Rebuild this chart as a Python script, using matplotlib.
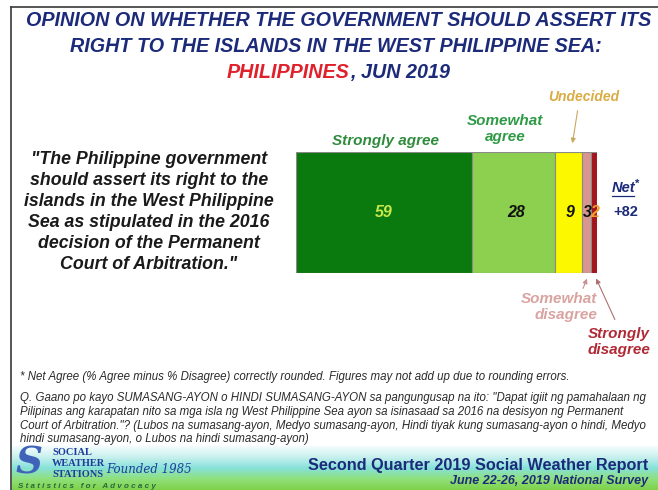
import numpy as np
import matplotlib.pyplot as plt
from matplotlib.colors import LinearSegmentedColormap

# survey shares (percent), left to right
categories = ['Strongly agree', 'Somewhat agree', 'Undecided', 'Somewhat disagree', 'Strongly disagree']
values = [59, 28, 9, 3, 2]
value_labels = ['59', '28', '9', '3', '2']
net_label = '+82'

seg_colors = ['#0b7a0e', '#8dcf4f', '#fbf800', '#d9958f', '#a3141c']
label_colors = ['#c9e84c', '#111111', '#111111', '#111111', '#f0a030']

W, H = 658, 490
NAVY = '#1c2a7a'
FONT = 'Liberation Sans'

fig = plt.figure(figsize=(W / 100, H / 100), dpi=100)
fig.patch.set_facecolor('white')

# full-figure axes in pixel coordinates for the text layout
bg = fig.add_axes([0, 0, 1, 1])
bg.set_xlim(0, W)
bg.set_ylim(H, 0)
bg.axis('off')

# frame lines
bg.plot([11, W], [7, 7], color='#3a3a3a', lw=1.2)
bg.plot([11, 11], [7, H], color='#3a3a3a', lw=1.2)

# footer gradient
cmap = LinearSegmentedColormap.from_list('ftr', ['#f4fdfc', '#c8f0ee', '#86e2da', '#90e07c', '#7ed24a'])
grad = np.linspace(0, 1, 100).reshape(-1, 1)
bg.imshow(grad, extent=(12, W, 490, 446), cmap=cmap, aspect='auto', zorder=0)

# title
tkw = dict(ha='center', va='center', fontsize=14.2, fontweight='bold', style='italic', family=FONT)
bg.text(339, 21, 'OPINION ON WHETHER THE GOVERNMENT SHOULD ASSERT ITS', color=NAVY, **tkw)
bg.text(336, 46, 'RIGHT TO THE ISLANDS IN THE WEST PHILIPPINE SEA:', color=NAVY, **tkw)
t = bg.text(227, 72, 'PHILIPPINES', color='#e0202a', ha='left', va='center', fontsize=14.2,
            fontweight='bold', style='italic', family=FONT)
fig.canvas.draw()
x_end = t.get_window_extent().x1
bg.annotate(', JUN 2019', xy=(x_end, H - 72), xycoords='figure pixels', color=NAVY,
            ha='left', va='center', fontsize=14.2, fontweight='bold', style='italic', family=FONT)

# quote statement
quote = ('"The Philippine government\nshould assert its right to the\nislands in the West Philippine\n'
         'Sea as stipulated in the 2016\ndecision of the Permanent\nCourt of Arbitration."')
bg.text(149, 212, quote, ha='center', va='center', fontsize=12.8, fontweight='bold', style='italic',
        family=FONT, color='#1a1a1a', linespacing=1.3)

# stacked bar
bar_ax = fig.add_axes([296 / W, 1 - 273 / H, 301 / W, 121 / H])
left = 0
centers = []
for v, c in zip(values, seg_colors):
    bar_ax.barh(0, v, left=left, height=1, color=c, edgecolor='#8a8a8a', linewidth=0.8)
    centers.append(left + v / 2)
    left += v
bar_ax.set_xlim(0, sum(values))
bar_ax.set_ylim(-0.5, 0.5)
bar_ax.axis('off')

offsets = [0, 0.8, 0.3, 0.1, 0.1]
for i, (cx, lab) in enumerate(zip(centers, value_labels)):
    bar_ax.text(cx + offsets[i], 0, lab, ha='center', va='center', fontsize=11.5, fontweight='bold',
                style='italic', family=FONT, color=label_colors[i])

# category labels
lkw = dict(fontweight='bold', style='italic', family=FONT)
bg.text(385, 141, 'Strongly agree', ha='center', va='center', color='#2e8b3a', fontsize=11, **lkw)
bg.text(505, 129, 'Somewhat\nagree', ha='center', va='center', color='#2e9a45', linespacing=1.1,
        fontsize=11, **lkw)
bg.text(584, 97, 'Undecided', ha='center', va='center', color='#d9ac45', fontsize=10, **lkw)
bg.annotate('', xy=(572, 146), xytext=(578, 108),
            arrowprops=dict(arrowstyle='-|>', color='#c9a860', lw=0.8, mutation_scale=7))
bg.text(597, 307, 'Somewhat\ndisagree', ha='right', va='center', color='#d9a3a0', linespacing=1.1,
        fontsize=11, **lkw)
bg.annotate('', xy=(588, 276), xytext=(582, 291),
            arrowprops=dict(arrowstyle='-|>', color='#c89090', lw=0.8, mutation_scale=7))
bg.text(650, 342, 'Strongly\ndisagree', ha='right', va='center', color='#b02a36', linespacing=1.1,
        fontsize=11, **lkw)
bg.annotate('', xy=(595, 276), xytext=(616, 322),
            arrowprops=dict(arrowstyle='-|>', color='#b07070', lw=0.8, mutation_scale=7))

# net score
bg.text(612, 188, 'Net', ha='left', va='center', color=NAVY, fontsize=10.5, fontweight='bold',
        style='italic', family=FONT)
bg.plot([612, 634], [196, 196], color=NAVY, lw=0.9)
bg.text(635, 184, '*', ha='left', va='center', color=NAVY, fontsize=8, fontweight='bold', family=FONT)
bg.text(613, 212, net_label, ha='left', va='center', color=NAVY, fontsize=10.5, fontweight='bold',
        family=FONT)

# notes
nkw = dict(ha='left', va='center', style='italic', family=FONT, color='#2a2a2a', fontsize=8.3)
bg.text(20, 377, '* Net Agree (% Agree minus % Disagree) correctly rounded. Figures may not add up due to rounding errors.',
        **nkw)
qlines = ['Q. Gaano po kayo SUMASANG-AYON o HINDI SUMASANG-AYON sa pangungusap na ito: "Dapat igiit ng pamahalaan ng',
          'Pilipinas ang karapatan nito sa mga isla ng West Philippine Sea ayon sa isinasaad sa 2016 na desisyon ng Permanent',
          'Court of Arbitration."? (Lubos na sumasang-ayon, Medyo sumasang-ayon, Hindi tiyak kung sumasang-ayon o hindi, Medyo',
          'hindi sumasang-ayon, o Lubos na hindi sumasang-ayon)']
for i, ln in enumerate(qlines):
    bg.text(20, 398 + i * 13.8, ln, **nkw)

# footer: logo and report name
bg.text(15, 463, 'S', ha='left', va='center', fontsize=27, fontweight='bold', style='italic',
        family='DejaVu Serif', color='#3f63b8')
skw = dict(ha='left', va='center', fontsize=7.5, fontweight='bold', family='Liberation Serif', color='#1f3c9a')
bg.text(52, 452, 'SOCIAL', **skw)
bg.text(52, 463, 'WEATHER', **skw)
bg.text(52, 474, 'STATIONS', **skw)
bg.text(106, 469, 'Founded 1985', ha='left', va='center', fontsize=8.5, style='italic',
        family='DejaVu Serif', color='#1f3c9a')
bg.text(18, 486, 'S t a t i s t i c s   f o r   A d v o c a c y', ha='left', va='center', fontsize=5.8,
        fontweight='bold', style='italic', family=FONT, color='#2a6a3a')
bg.text(648, 465, 'Second Quarter 2019 Social Weather Report', ha='right', va='center', fontsize=11.7,
        fontweight='bold', family=FONT, color=NAVY)
bg.text(648, 481, 'June 22-26, 2019 National Survey', ha='right', va='center', fontsize=9,
        fontweight='bold', style='italic', family=FONT, color=NAVY)

fig.savefig('out.png', dpi=100)
